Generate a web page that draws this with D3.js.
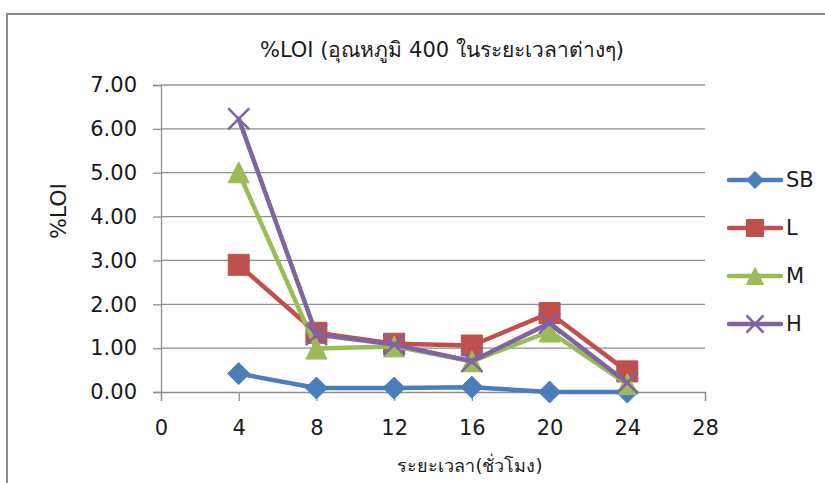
<!DOCTYPE html>
<html>
<head>
<meta charset="utf-8">
<script src="https://cdn.jsdelivr.net/npm/d3@7"></script>
<style>
  html, body { margin: 0; padding: 0; background: #fff; }
  svg { display: block; }
  text { font-family: "DejaVu Sans", "Noto Sans", sans-serif; fill: #1a1a1a; }
</style>
</head>
<body>
<svg id="chart" width="825" height="483"></svg>
<script>
// Hours of heating and %LOI per sample series
const hours = [4, 8, 12, 16, 20, 24];
const seriesNames = ["SB", "L", "M", "H"];
const sbValues = [0.42, 0.09, 0.09, 0.11, 0.00, 0.00];
const lValues  = [2.90, 1.35, 1.10, 1.06, 1.80, 0.47];
const mValues  = [5.01, 0.99, 1.04, 0.70, 1.38, 0.18];
const hValues  = [6.23, 1.31, 1.08, 0.70, 1.57, 0.21];
const xTickValues = [0, 4, 8, 12, 16, 20, 24, 28];
const yTickValues = [0, 1, 2, 3, 4, 5, 6, 7];
const titleText = "%LOI (อุณหภูมิ 400 ในระยะเวลาต่างๆ)";
const xTitle = "ระยะเวลา(ชั่วโมง)";
const yTitle = "%LOI";

const colors = { SB: "#4a7ebb", L: "#c0504d", M: "#9bbb59", H: "#8064a2" };
const markers = { SB: "diamond", L: "square", M: "triangle", H: "cross" };
const valuesBy = { SB: sbValues, L: lValues, M: mValues, H: hValues };

const svg = d3.select("#chart");

// outer chart frame
svg.append("rect")
  .attr("x", 7).attr("y", 14)
  .attr("width", 840).attr("height", 490)
  .attr("fill", "#fff")
  .attr("stroke", "#8c8c8c").attr("stroke-width", 2);

const x = d3.scaleLinear().domain([0, 28]).range([161, 705]);
const y = d3.scaleLinear().domain([0, 7]).range([392, 85]);

// horizontal gridlines
svg.append("g")
  .selectAll("line")
  .data(yTickValues.filter(v => v > 0))
  .join("line")
  .attr("x1", x(0)).attr("x2", x(28))
  .attr("y1", d => y(d)).attr("y2", d => y(d))
  .attr("stroke", "#8f8f8f").attr("stroke-width", 1.3);

// y axis
const yAxis = svg.append("g")
  .attr("transform", `translate(${x(0)},0)`)
  .call(d3.axisLeft(y).tickValues(yTickValues).tickFormat(d3.format(".2f")).tickSize(8).tickPadding(16));
yAxis.select(".domain").attr("stroke", "#8f8f8f").attr("stroke-width", 1.3);
yAxis.selectAll(".tick line").attr("stroke", "#8f8f8f").attr("stroke-width", 1.3);
yAxis.selectAll(".tick text").attr("font-size", 21).attr("fill", "#1a1a1a")
  .attr("font-family", "'DejaVu Sans', sans-serif");

// x axis
const xAxis = svg.append("g")
  .attr("transform", `translate(0,${y(0)})`)
  .call(d3.axisBottom(x).tickValues(xTickValues).tickFormat(d3.format("d")).tickSize(9).tickPadding(19));
xAxis.select(".domain").attr("stroke", "#8f8f8f").attr("stroke-width", 1.3);
xAxis.selectAll(".tick line").attr("stroke", "#8f8f8f").attr("stroke-width", 1.3);
xAxis.selectAll(".tick text").attr("font-size", 21).attr("fill", "#1a1a1a")
  .attr("font-family", "'DejaVu Sans', sans-serif");

// marker shapes centred on (0,0)
function markerPath(kind, s) {
  const h = s / 2;
  if (kind === "diamond") return `M0,${-h}L${h},0L0,${h}L${-h},0Z`;
  if (kind === "square") return `M${-h},${-h}H${h}V${h}H${-h}Z`;
  if (kind === "triangle") return `M0,${-h}L${h},${h}L${-h},${h}Z`;
  return `M${-h},${-h}L${h},${h}M${h},${-h}L${-h},${h}`;
}
function drawMarker(g, kind, color, size) {
  const p = g.append("path").attr("d", markerPath(kind, size));
  if (kind === "cross") {
    p.attr("fill", "none").attr("stroke", color).attr("stroke-width", 2.5);
  } else {
    p.attr("fill", color).attr("stroke", color).attr("stroke-width", 1);
  }
}

const line = d3.line().x(d => x(d[0])).y(d => y(d[1]));

// series: line first, then its markers
seriesNames.forEach(name => {
  const pts = hours.map((h, i) => [h, valuesBy[name][i]]);
  const g = svg.append("g");
  g.append("path")
    .attr("d", line(pts))
    .attr("fill", "none")
    .attr("stroke", colors[name])
    .attr("stroke-width", 4.5)
    .attr("stroke-linejoin", "round")
    .attr("stroke-linecap", "round");
  pts.forEach(p => {
    const mg = g.append("g").attr("transform", `translate(${x(p[0])},${y(p[1])})`);
    drawMarker(mg, markers[name], colors[name], markers[name] === "diamond" ? 22 : 21);
  });
});

// legend
const legendY = d3.scalePoint().domain(seriesNames).range([180, 324]);
seriesNames.forEach(name => {
  const g = svg.append("g").attr("transform", `translate(0,${legendY(name)})`);
  g.append("line")
    .attr("x1", 729).attr("x2", 781)
    .attr("stroke", colors[name]).attr("stroke-width", 4.5)
    .attr("stroke-linecap", "round");
  const mg = g.append("g").attr("transform", "translate(755,0)");
  drawMarker(mg, markers[name], colors[name], 17);
  g.append("text")
    .attr("x", 786).attr("y", 0).attr("dy", "0.35em")
    .attr("font-size", 21)
    .text(name);
});

// title
svg.append("text")
  .attr("x", 442).attr("y", 50).attr("dy", "0.35em")
  .attr("text-anchor", "middle")
  .attr("font-size", 21)
  .text(titleText);

// axis titles
svg.append("text")
  .attr("x", 470).attr("y", 466).attr("dy", "0.35em")
  .attr("text-anchor", "middle")
  .attr("font-size", 18)
  .attr("fill", "#404040")
  .text(xTitle);

svg.append("text")
  .attr("transform", `translate(58,211) rotate(-90)`)
  .attr("dy", "0.35em")
  .attr("text-anchor", "middle")
  .attr("font-size", 22)
  .text(yTitle);
</script>
</body>
</html>
